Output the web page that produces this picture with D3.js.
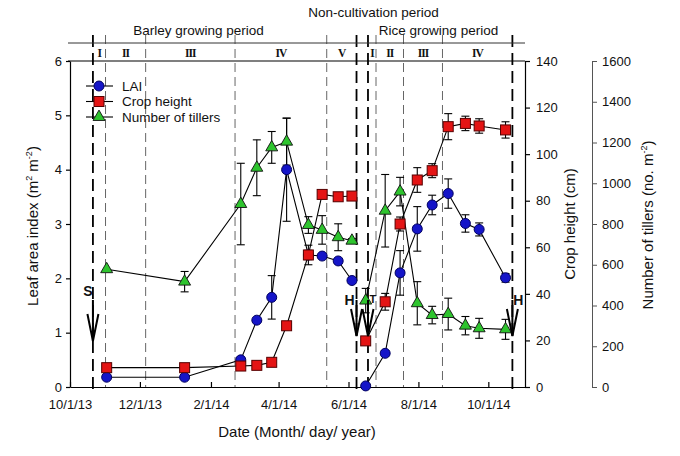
<!DOCTYPE html>
<html><head><meta charset="utf-8">
<script src="https://cdn.jsdelivr.net/npm/d3@7"></script>
<style>
body{margin:0;background:#fff}
svg{display:block}
text{font-family:"Liberation Sans",Arial,sans-serif;fill:#111}
</style>
</head><body>
<svg id="c" width="680" height="456"></svg>
<script>
// ---------------- data ----------------
const barleyDates   = ["2013-11-02","2014-01-09","2014-02-27","2014-03-13","2014-03-26","2014-04-08","2014-04-27","2014-05-09","2014-05-23","2014-06-04"];
const barleyLAI     = [0.18, 0.18, 0.50, 1.23, 1.65, 4.00, 2.43, 2.41, 2.32, 1.96];
const barleyLAIErr  = [0, 0, 0.05, 0, 0.40, 0.95, 0.18, 0, 0.05, 0.05];
const barleyHeight  = [8.3, 8.3, 9.0, 9.3, 10.6, 26.3, 56.7, 82.7, 81.7, 82.0];
const barleyHeightErr = [0, 0, 0, 0, 0.8, 0, 2.0, 1.7, 1.5, 1.5];
const barleyTillers = [578, 517, 898, 1076, 1176, 1204, 795, 771, 735, 718];
const barleyTillersErr = [0, 50, 200, 137, 78, 115, 41, 70, 66, 10];

const riceDates   = ["2014-06-16","2014-07-03","2014-07-16","2014-07-31","2014-08-13","2014-08-27","2014-09-11","2014-09-23","2014-10-16"];
const riceLAI     = [0.02, 0.62, 2.10, 2.91, 3.35, 3.56, 3.01, 2.90, 2.01];
const riceLAIErr  = [0, 0.05, 0.41, 0.41, 0.18, 0.27, 0.16, 0.12, 0.08];
const riceHeight  = [19.8, 36.6, 70.0, 88.9, 92.9, 111.8, 113.2, 112.1, 110.4];
const riceHeightErr = [0, 3.6, 3.0, 5.3, 3.0, 5.6, 3.1, 3.1, 3.5];
const riceTillers = [424, 865, 959, 411, 353, 358, 301, 288, 283];
const riceTillersErr = [60, 178, 70, 106, 43, 78, 45, 49, 49];

const xTickDates = ["2013-10-01","2013-12-01","2014-02-01","2014-04-01","2014-06-01","2014-08-01","2014-10-01"];
const laiTicks = [0,1,2,3,4,5,6];
const heightTicks = [0,20,40,60,80,100,120,140];
const tillerTicks = [0,200,400,600,800,1000,1200,1400,1600];

const eventDates  = ["2013-10-21","2014-06-08","2014-06-18","2014-10-22"];
const eventLabels = ["S","H","T","H"];
const barleyStageBounds = ["2013-10-21","2013-11-01","2013-12-06","2014-02-22","2014-05-13","2014-06-08"];
const barleyStages = ["I","II","III","IV","V"];
const riceStageBounds = ["2014-06-18","2014-06-25","2014-07-19","2014-08-22","2014-10-22"];
const riceStages = ["I","II","III","IV"];
const stageLines = ["2013-11-01","2013-12-06","2014-02-22","2014-05-13","2014-06-25","2014-07-19","2014-08-22"];

const legendNames = ["LAI","Crop height","Number of tillers"];

// ---------------- setup ----------------
const parse = d3.timeParse("%Y-%m-%d");
const svg = d3.select("#c");
const L = 70, R = 525, T = 61, B = 387;

const x = d3.scaleTime().domain([parse("2013-10-01"), parse("2014-11-02")]).range([L, R]);
const yL = d3.scaleLinear().domain([0, 6]).range([B, T]);
const yH = d3.scaleLinear().domain([0, 140]).range([B, T]);
const yT = d3.scaleLinear().domain([0, 1600]).range([B, T]);

// ---------------- vertical lines ----------------
svg.append("g").selectAll("line").data(stageLines).join("line")
  .attr("x1", d => x(parse(d))).attr("x2", d => x(parse(d)))
  .attr("y1", 35).attr("y2", B)
  .attr("stroke", "#666").attr("stroke-width", 1).attr("stroke-dasharray", "9,5");
svg.append("g").selectAll("line").data(eventDates).join("line")
  .attr("x1", d => x(parse(d))).attr("x2", d => x(parse(d)))
  .attr("y1", 35).attr("y2", 393)
  .attr("stroke", "#000").attr("stroke-width", 1.8).attr("stroke-dasharray", "12,6");

// header lines
svg.append("line").attr("x1", 68).attr("x2", R).attr("y1", 43).attr("y2", 43).attr("stroke", "#333").attr("stroke-width", 1);
svg.append("line").attr("x1", 68).attr("x2", R).attr("y1", T).attr("y2", T).attr("stroke", "#000").attr("stroke-width", 1.2);

// header texts
svg.append("text").attr("x", 373.5).attr("y", 17).attr("text-anchor", "middle").attr("font-size", 13.5).text("Non-cultivation period");
svg.append("text").attr("x", 198.5).attr("y", 35).attr("text-anchor", "middle").attr("font-size", 13.5).text("Barley growing period");
svg.append("text").attr("x", 438.5).attr("y", 35).attr("text-anchor", "middle").attr("font-size", 13.5).text("Rice growing period");

function stageLabels(bounds, names) {
  svg.append("g").selectAll("text").data(names).join("text")
    .attr("x", (d, i) => (x(parse(bounds[i])) + x(parse(bounds[i + 1]))) / 2)
    .attr("y", 57)
    .attr("text-anchor", "middle")
    .attr("font-size", 11.5)
    .attr("font-weight", "bold")
    .attr("letter-spacing", -1)
    .style("font-family", "'Liberation Serif','Times New Roman',serif")
    .text(d => d);
}
stageLabels(barleyStageBounds, barleyStages);
stageLabels(riceStageBounds, riceStages);

// ---------------- axes ----------------
const intFmt = d3.format("d");
const axL = svg.append("g").attr("transform", `translate(${L},0)`)
  .call(d3.axisLeft(yL).tickValues(laiTicks).tickFormat(intFmt).tickSize(4).tickSizeOuter(0).tickPadding(4));
const axB = svg.append("g").attr("transform", `translate(0,${B})`)
  .call(d3.axisBottom(x).tickValues(xTickDates.map(parse)).tickFormat(d3.timeFormat("%-m/%-d/%y")).tickSize(-5).tickSizeOuter(0).tickPadding(13));
const axH = svg.append("g").attr("transform", `translate(${R},0)`)
  .call(d3.axisRight(yH).tickValues(heightTicks).tickFormat(intFmt).tickSize(5).tickSizeOuter(0).tickPadding(6));
const axT = svg.append("g").attr("transform", `translate(592,0)`)
  .call(d3.axisRight(yT).tickValues(tillerTicks).tickFormat(intFmt).tickSize(5).tickSizeOuter(0).tickPadding(5));
[axL, axB, axH, axT].forEach(g => {
  g.selectAll("text").attr("font-size", 13).style("font-family", "'Liberation Sans',Arial,sans-serif").attr("fill", "#111");
  g.selectAll("path,line").attr("stroke", "#000").attr("stroke-width", 1.2);
});
axT.selectAll("path,line").attr("stroke", "#555").attr("stroke-width", 1);

// axis titles
svg.append("text").attr("transform", "translate(38,226) rotate(-90)").attr("text-anchor", "middle").attr("font-size", 15)
  .call(t => {
    t.append("tspan").text("Leaf area index (m");
    t.append("tspan").attr("dy", -6).attr("font-size", 9).text("2");
    t.append("tspan").attr("dy", 6).text(" m");
    t.append("tspan").attr("dy", -6).attr("font-size", 9).text("-2");
    t.append("tspan").attr("dy", 6).text(")");
  });
svg.append("text").attr("transform", "translate(575,224) rotate(-90)").attr("text-anchor", "middle").attr("font-size", 15).text("Crop height (cm)");
svg.append("text").attr("transform", "translate(653,225) rotate(-90)").attr("text-anchor", "middle").attr("font-size", 15)
  .call(t => {
    t.append("tspan").text("Number of tillers (no. m");
    t.append("tspan").attr("dy", -6).attr("font-size", 9).text("-2");
    t.append("tspan").attr("dy", 6).text(")");
  });
svg.append("text").attr("x", 297).attr("y", 437).attr("text-anchor", "middle").attr("font-size", 15).text("Date (Month/ day/ year)");

// ---------------- series ----------------
const colors = { lai: "#1515c8", height: "#e41414", tillers: "#2ec42e" };

function makeRows(dates, vals, errs) {
  return dates.map((d, i) => ({ date: parse(d), v: vals[i], e: errs[i] }));
}
const series = [
  { key: "lai", y: yL, segs: [makeRows(barleyDates, barleyLAI, barleyLAIErr), makeRows(riceDates, riceLAI, riceLAIErr)] },
  { key: "height", y: yH, segs: [makeRows(barleyDates, barleyHeight, barleyHeightErr), makeRows(riceDates, riceHeight, riceHeightErr)] },
  { key: "tillers", y: yT, segs: [makeRows(barleyDates, barleyTillers, barleyTillersErr), makeRows(riceDates, riceTillers, riceTillersErr)] }
];

function drawMarker(sel, key) {
  if (key === "lai") {
    sel.append("circle").attr("r", 5).attr("fill", colors.lai).attr("stroke", "#000060").attr("stroke-width", 1);
  } else if (key === "height") {
    sel.append("rect").attr("x", -5).attr("y", -5).attr("width", 10).attr("height", 10)
      .attr("fill", colors.height).attr("stroke", "#500").attr("stroke-width", 1);
  } else {
    sel.append("path").attr("d", d3.symbol(d3.symbolTriangle, 62)()).attr("fill", colors.tillers).attr("stroke", "#111").attr("stroke-width", 0.9);
  }
}

const gErr = svg.append("g"), gLine = svg.append("g"), gMark = svg.append("g");
series.forEach(s => {
  s.segs.forEach(rows => {
    rows.filter(r => r.e > 0).forEach(r => {
      const cx = x(r.date), y1 = s.y(r.v + r.e), y2 = s.y(r.v - r.e);
      const g = gErr.append("g").attr("stroke", "#000").attr("stroke-width", 1.1);
      g.append("line").attr("x1", cx).attr("x2", cx).attr("y1", y1).attr("y2", y2);
      g.append("line").attr("x1", cx - 4).attr("x2", cx + 4).attr("y1", y1).attr("y2", y1);
      g.append("line").attr("x1", cx - 4).attr("x2", cx + 4).attr("y1", y2).attr("y2", y2);
    });
    gLine.append("path").datum(rows)
      .attr("d", d3.line().x(r => x(r.date)).y(r => s.y(r.v)))
      .attr("fill", "none").attr("stroke", "#000").attr("stroke-width", 1.1);
  });
});
series.forEach(s => {
  s.segs.forEach(rows => {
    gMark.append("g").selectAll("g").data(rows).join("g")
      .attr("transform", r => `translate(${x(r.date)},${s.y(r.v)})`)
      .each(function () { drawMarker(d3.select(this), s.key); });
  });
});

// ---------------- event arrows ----------------
const arrowG = svg.append("g").attr("stroke", "#000").attr("stroke-width", 2).attr("fill", "none");
eventDates.forEach((d, i) => {
  const ax = x(parse(d));
  const tip = i === 0 ? 341 : 336;
  arrowG.append("line").attr("x1", ax).attr("x2", ax).attr("y1", 300).attr("y2", tip);
  arrowG.append("path").attr("d", `M${ax - 5.5},${tip - 27}L${ax},${tip}L${ax + 5.5},${tip - 27}`);
});
const labelOffsets = [-5, -7, 5, 6];
const labelY = [296, 305, 303, 305];
svg.append("g").selectAll("text").data(eventLabels).join("text")
  .attr("x", (d, i) => x(parse(eventDates[i])) + labelOffsets[i])
  .attr("y", (d, i) => labelY[i])
  .attr("text-anchor", "middle")
  .attr("font-weight", "bold")
  .attr("font-size", (d, i) => i === 2 ? 11 : 14)
  .text(d => d);

// ---------------- legend ----------------
const leg = svg.append("g");
legendNames.forEach((name, i) => {
  const ly = 86 + i * 15.5;
  leg.append("line").attr("x1", 86).attr("x2", 113).attr("y1", ly).attr("y2", ly).attr("stroke", "#000").attr("stroke-width", 1.1);
  const m = leg.append("g").attr("transform", `translate(99,${ly})`);
  drawMarker(m, series[i].key);
  leg.append("text").attr("x", 122).attr("y", ly).attr("dy", "0.35em").attr("font-size", 13.5).text(name);
});
</script>
</body></html>
